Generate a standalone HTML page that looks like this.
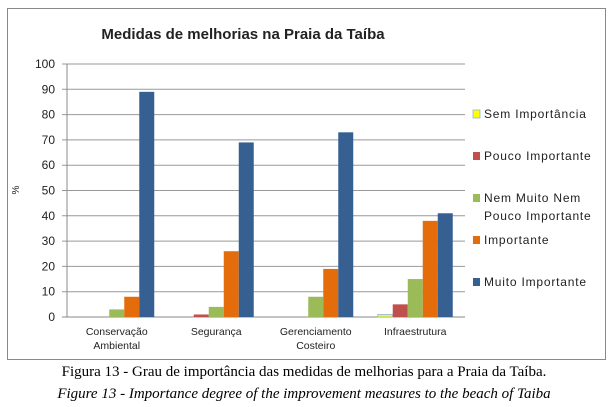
<!DOCTYPE html>
<html><head><meta charset="utf-8"><style>
body{margin:0;background:#fff;width:611px;height:407px;overflow:hidden;font-family:"Liberation Sans",sans-serif}
svg{position:absolute;left:0;top:0}
</style></head><body>
<svg width="611" height="407" id="c">
<rect x="7.5" y="8.5" width="598" height="351" fill="#fff" stroke="#888"/>
<text x="243" y="39" text-anchor="middle" font-size="15" font-weight="bold" fill="#222">Medidas  de melhorias na Praia da Taíba</text>
<text transform="translate(19,190) rotate(-90)" text-anchor="middle" font-size="10" fill="#222">%</text>
<text x="304" y="376" text-anchor="middle" font-family="Liberation Serif" font-size="15" fill="#000">Figura 13 - Grau de importância das medidas de melhorias para a Praia da Taíba.</text>
<text x="304" y="398" text-anchor="middle" font-family="Liberation Serif" font-style="italic" font-size="15" fill="#000">Figure 13 - Importance degree of the improvement measures to the beach of Taiba</text>
</svg>
<script>
const categories=[["Conservação","Ambiental"],["Segurança"],["Gerenciamento","Costeiro"],["Infraestrutura"]];
const seriesNames=[["Sem Importância"],["Pouco Importante"],["Nem Muito Nem","Pouco Importante"],["Importante"],["Muito Importante"]];
const semImportancia=[0,0,0,1];
const poucoImportante=[0,1,0,5];
const nemMuitoNemPouco=[3,4,8,15];
const importante=[8,26,19,38];
const muitoImportante=[89,69,73,41];
const yTicks=[0,10,20,30,40,50,60,70,80,90,100];
const series=[semImportancia,poucoImportante,nemMuitoNemPouco,importante,muitoImportante];
const colors=["#ffff00","#c0504d","#9bbb59","#e46c0a","#376092"];
const svg=document.getElementById('c');const NS="http://www.w3.org/2000/svg";
const L=67,R=465,T=64,B=317;
const y=v=>B-(v/100)*(B-T);
const gw=(R-L)/categories.length, bw=15;
function mk(t,a){const e=document.createElementNS(NS,t);for(const k in a)e.setAttribute(k,a[k]);svg.appendChild(e);return e;}
yTicks.forEach(v=>{
 const g=mk('line',{x1:L-5,x2:R,y1:y(v),y2:y(v),stroke:v===0?'#888':'#999','stroke-width':1});
 
 
 const t=mk('text',{x:55,y:y(v)+4,'text-anchor':'end','font-size':12,fill:'#222'});t.textContent=v;
 
 
});
const ax=mk('line',{x1:L,x2:L,y1:T,y2:B,stroke:'#888'});


categories.forEach((c,i)=>{
 const start=L+i*gw+(gw-bw*5)/2;
 series.forEach((s,j)=>{
  const v=s[i];
  const r=mk('rect',{x:start+j*bw,y:y(v),width:bw,height:B-y(v),fill:colors[j]});
  if(j===0&&v>0){r.setAttribute('stroke','#8db3e2');r.setAttribute('stroke-width','0.8');}
  
  
 });
 c.forEach((ln,k)=>{
  const t=mk('text',{x:L+i*gw+gw/2,y:335+k*14,'text-anchor':'middle','font-size':10.5,fill:'#222'});t.textContent=ln;
  
  
 });
});
const ly=[114,156,198,240,282];
seriesNames.forEach((n,j)=>{
 const r=mk('rect',{x:473,y:ly[j]-4,width:7,height:8,fill:colors[j]});
 if(j===0){r.setAttribute('stroke','#8db3e2');r.setAttribute('stroke-width','0.8');}
 
 
 n.forEach((ln,k)=>{
  const t=mk('text',{x:484,y:ly[j]+4+k*18,'font-size':12,fill:'#222','letter-spacing':'0.8'});t.textContent=ln;
  
  
 });
});
</script>
</body></html>
